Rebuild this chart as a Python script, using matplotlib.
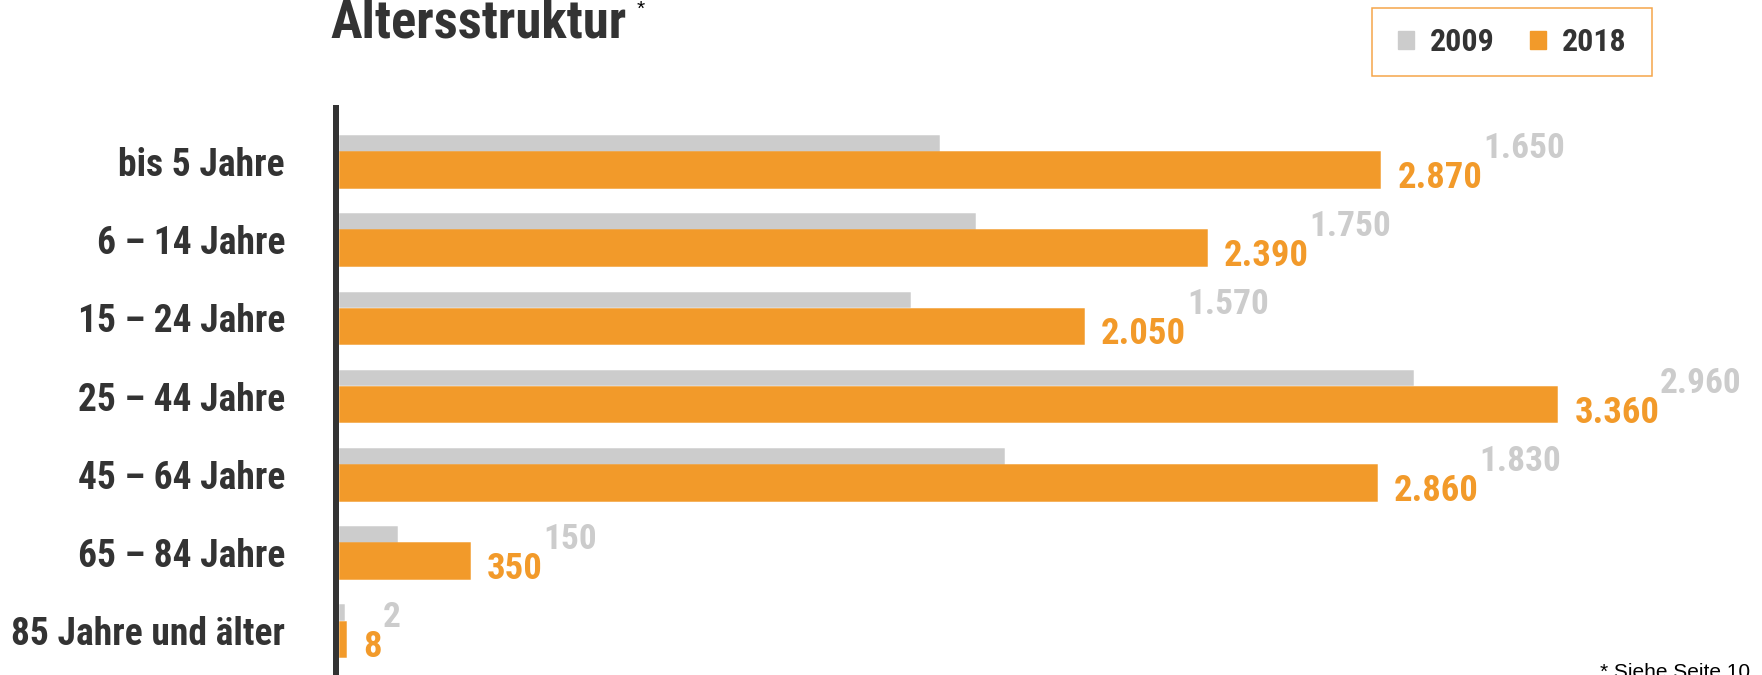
import matplotlib
matplotlib.use("Agg")
import matplotlib.pyplot as plt
import matplotlib.patches as mpatches
from matplotlib import font_manager as fm
import numpy as np

# Daten
kategorien = ["bis 5 Jahre", "6 – 14 Jahre", "15 – 24 Jahre", "25 – 44 Jahre",
              "45 – 64 Jahre", "65 – 84 Jahre", "85 Jahre und älter"]
werte_2009 = [1650, 1750, 1570, 2960, 1830, 150, 2]
werte_2018 = [2870, 2390, 2050, 3360, 2860, 350, 8]
jahre = ["2009", "2018"]

GRAU = "#cccccc"
ORANGE = "#f29a2a"
DUNKEL = "#333333"

# schmale Schrift suchen
vorhanden = {f.name for f in fm.fontManager.ttflist}
wunsch = ["Roboto Condensed", "Archivo Narrow", "PT Sans Narrow", "Liberation Sans Narrow", "Roboto"]
schmal = next(n for n in wunsch if n in vorhanden)
plt.rcParams["font.family"] = [schmal, "DejaVu Sans"]
plt.rcParams["font.weight"] = "bold"
NORMAL = ["Liberation Sans", "DejaVu Sans"]

W, H = 1762, 675
fig = plt.figure(figsize=(W / 100, H / 100), dpi=100)
ax = fig.add_axes([341.25 / W, 0, 1409 / W, 567 / H])

for s in ["top", "right", "bottom"]:
    ax.spines[s].set_visible(False)
ax.spines["left"].set_position(("outward", 3.78))
ax.spines["left"].set_linewidth(4.32)
ax.spines["left"].set_color(DUNKEL)

y = np.arange(len(kategorien))
rand = 3.24  # pt, Kontur in Balkenfarbe
ax.barh(y - 0.2365, werte_2009, height=0.147, color=GRAU, edgecolor=GRAU,
        linewidth=rand, clip_on=False)
ax.barh(y + 0.1025, werte_2018, height=0.415, color=ORANGE, edgecolor=ORANGE,
        linewidth=rand, clip_on=False)

ax.set_xlim(0, 3900)
ax.set_ylim(6.566, -0.684)

def fmt(v):
    return f"{v:,}".replace(",", ".")

for i, (a, b) in enumerate(zip(werte_2009, werte_2018)):
    t = ax.annotate(fmt(b), xy=(b, i + 0.339), xytext=(13.9, 0),
                    textcoords="offset points", va="baseline", ha="left",
                    fontsize=26.5, color=ORANGE)
    ax.annotate(fmt(a), xy=(1, i + 0.339), xycoords=(t, "data"),
                xytext=(0.5, 21.6), textcoords="offset points",
                va="baseline", ha="left", fontsize=25.5, color=GRAU)

ax.set_xticks([])
ax.set_yticks(y, labels=kategorien)
ax.tick_params(axis="y", length=0, pad=36.7, labelsize=27, labelcolor=DUNKEL)

# Titel
fig.text(330 / W, 1 - 37.7 / H, "Altersstruktur", va="baseline", ha="left",
         fontsize=38, color=DUNKEL)
fig.text(637 / W, 1 - 0 / H, "*", va="top", ha="left", fontsize=15,
         fontweight="normal", color="black", family=NORMAL)

# Legende mit eigenem Rahmen
rahmen = mpatches.Rectangle((1372 / W, 1 - 76 / H), 280 / W, 68 / H,
                            transform=fig.transFigure, facecolor="white",
                            edgecolor="#f5a64a", linewidth=1.1)
fig.add_artist(rahmen)
griffe = [mpatches.Patch(color=GRAU, label=jahre[0]),
          mpatches.Patch(color=ORANGE, label=jahre[1])]
leg = fig.legend(handles=griffe, loc="center", ncol=2,
                 bbox_to_anchor=(1512 / W, 1 - 42 / H), borderaxespad=0,
                 prop={"weight": "bold", "size": 23},
                 handlelength=0.5, handleheight=0.5, handletextpad=0.5,
                 columnspacing=1.1, borderpad=0, frameon=False)
for txt in leg.get_texts():
    txt.set_color(DUNKEL)

# Fussnote
fig.text(1600 / W, -3 / H, "* Siehe Seite 10", va="baseline", ha="left",
         fontsize=15, fontweight="normal", color="black", family=NORMAL)

fig.savefig("out.png", dpi=100)
